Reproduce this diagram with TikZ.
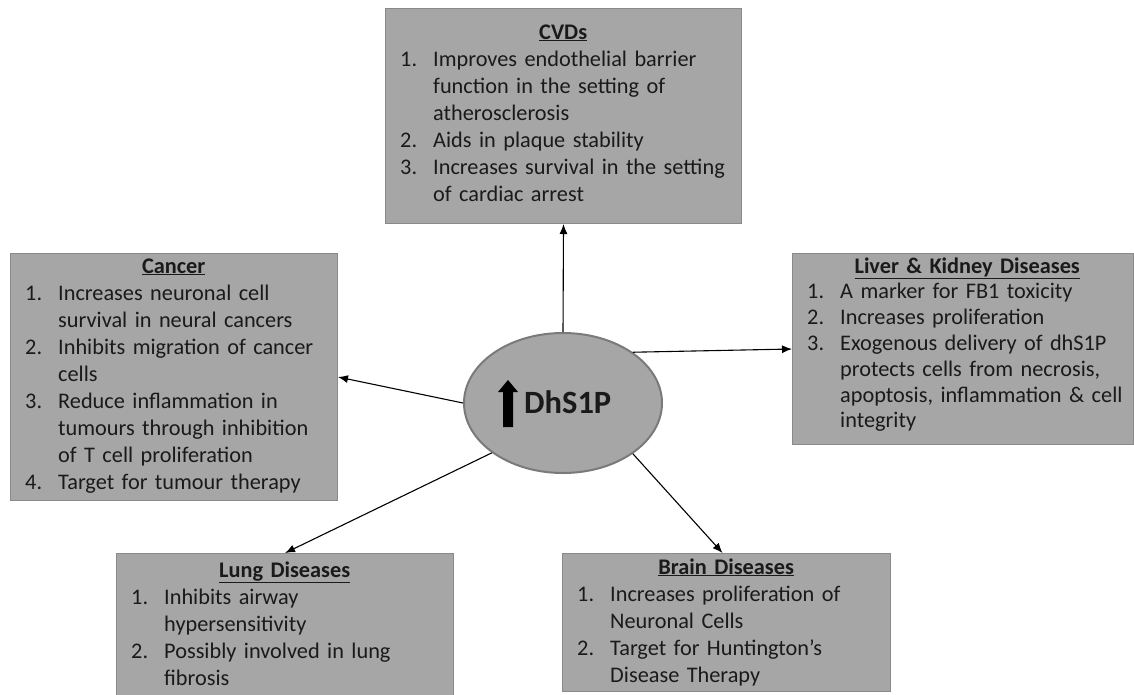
\documentclass[tikz,border=0pt]{standalone}
\usepackage{fontspec}
\setmainfont{Carlito}
\usetikzlibrary{arrows.meta,shapes.geometric}
\definecolor{boxfill}{HTML}{A6A6A6}
\definecolor{boxline}{HTML}{8A8A8A}
\definecolor{ellline}{HTML}{7A7A7A}
\definecolor{txt}{HTML}{1A1A1A}
\newcommand\itm[2]{\par\noindent\hangindent=33pt\hangafter=1\makebox[33pt][l]{#1}\ignorespaces#2\par}
\newcommand\ttl[1]{{\centering\textbf{\underline{#1}}\par}}
\tikzset{
  box/.style={draw=boxline, line width=1pt, fill=boxfill, anchor=north west, inner sep=0pt},
  boxtext/.style={anchor=base west, inner sep=0pt, align=left, text=txt,
    font=\fontsize{22.3}{27}\selectfont},
  conn/.style={draw=black, line width=1.1pt, -{Latex[length=10pt,width=8pt]}},
}
\begin{document}
\begin{tikzpicture}[x=1pt,y=-1pt]
\useasboundingbox (0,0) rectangle (1134,694);
\clip (0,0) rectangle (1134,694);
\fill[white] (0,0) rectangle (1134,694);
% boxes
\node[box, minimum width=356pt, minimum height=215pt] (cvd) at (385,8) {};
\node[box, minimum width=327pt, minimum height=247pt] (cancer) at (10,253) {};
\node[box, minimum width=341pt, minimum height=191pt] (liver) at (792,253) {};
\node[box, minimum width=337pt, minimum height=160pt] (lung) at (116,553) {};
\node[box, minimum width=328pt, minimum height=138pt] (brain) at (562,553) {};
% texts
\node[boxtext, text width=326pt] (cvdtxt) at (400,39) {%
\ttl{CVDs}%
\itm{1.}{Improves endothelial barrier\newline function in the setting of\newline atherosclerosis}%
\itm{2.}{Aids in plaque stability}%
\itm{3.}{Increases survival in the setting\newline of cardiac arrest}};
\node[boxtext, text width=297pt] (cancertxt) at (25,273) {%
\ttl{Cancer}%
\itm{1.}{Increases neuronal cell\newline survival in neural cancers}%
\itm{2.}{Inhibits migration of cancer\newline cells}%
\itm{3.}{Reduce inflammation in\newline tumours through inhibition\newline of T cell proliferation}%
\itm{4.}{Target for tumour therapy}};
\node[boxtext, text width=320pt, font=\fontsize{22.3}{25.8}\selectfont] (livertxt) at (807,273) {%
\ttl{Liver \& Kidney Diseases}%
\itm{1.}{A marker for FB1 toxicity}%
\itm{2.}{Increases proliferation}%
\itm{3.}{Exogenous delivery of dhS1P\newline protects cells from necrosis,\newline apoptosis, inflammation \&~cell\newline integrity}};
\node[boxtext, text width=307pt] (lungtxt) at (131,577) {%
\ttl{Lung Diseases}%
\itm{1.}{Inhibits airway\newline hypersensitivity}%
\itm{2.}{Possibly involved in lung\newline fibrosis}};
\node[boxtext, text width=298pt] (braintxt) at (577,574) {%
\ttl{Brain Diseases}%
\itm{1.}{Increases proliferation of\newline Neuronal Cells}%
\itm{2.}{Target for Huntington’s\newline Disease Therapy}};
% centre
\node[ellipse, draw=ellline, line width=2pt, fill=boxfill, minimum width=198pt, minimum height=140pt, inner sep=0pt] (dh) at (563,403) {};
\node[anchor=base west, inner sep=0pt, text=txt, font=\fontsize{32.5}{38}\selectfont\bfseries] (dhtxt) at (524,413) {DhS1P};
\fill[black] (503,427) -- (503,392) -- (498,392) -- (508,380) -- (518,392) -- (513,392) -- (513,427) -- cycle;
% connectors
\draw[conn] (dh.north) -- (cvd.south);
\draw[conn] (dh.36) -- (liver.west);
\draw[conn] (dh.west) -- (cancer.east);
\draw[conn] (dh.215) -- (lung.north);
\draw[conn] (dh.324) -- ([xshift=-4pt]brain.north);
\end{tikzpicture}
\end{document}
